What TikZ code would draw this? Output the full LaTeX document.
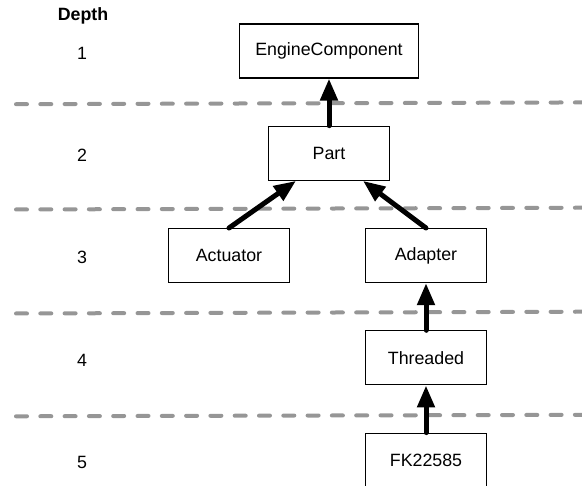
\documentclass[tikz,border=0pt]{standalone}
\usepackage{fontspec}
\setmainfont{Liberation Sans}
\usetikzlibrary{positioning, arrows.meta}
\definecolor{sepgray}{RGB}{150,150,150}

\begin{document}
\begin{tikzpicture}[x=1pt, y=1pt, node distance=102.3pt, font=\fontsize{17.8}{21}\selectfont]
% Define styles
\tikzstyle{cls} = [rectangle, minimum width=121pt, minimum height=54pt, text centered, draw=black, line width=1.2pt, fill=white]
\tikzstyle{arrow} = [line width=5pt, line cap=round, -{Triangle[length=22pt, width=17pt]}]
\tikzstyle{sep} = [sepgray, line width=4pt, line cap=round, dash pattern=on 11pt off 13.3pt]

\useasboundingbox (0,0) rectangle (582,-486);

% Depth column
\node (depth) at (83,-16) {\textbf{Depth}};
\node (d1) at (82,-53) {1};
\node (d2) [below of=d1] {2};
\node (d3) [below of=d2] {3};
\node (d4) [below of=d3] {4};
\node (d5) [below of=d4] {5};

% Level separators
\draw [sep] (16,-104.2) -- (592,-102.4);
\draw [sep] (16,-209.5) -- (592,-207.7);
\draw [sep] (16,-313.5) -- (592,-311.7);
\draw [sep] (16,-416.3) -- (592,-414.8);

% Classes
\node (engine) [cls, minimum width=179pt] at (329,-51) {EngineComponent};
\node (part) [cls, below of=engine] {Part};
\node (actuator) [cls, below of=part, xshift=-100pt] {Actuator};
\node (adapter) [cls, below of=part, xshift=97pt] {Adapter};
\node (threaded) [cls, below of=adapter] {Threaded};
\node (fk) [cls, below of=threaded] {FK22585};

% Inheritance arrows
\draw [arrow] (part) -- (engine);
\draw [arrow] (actuator.north) -- ([xshift=-33pt]part.south);
\draw [arrow] (adapter.north) -- ([xshift=34pt]part.south);
\draw [arrow] (threaded) -- (adapter);
\draw [arrow] (fk) -- (threaded);

\end{tikzpicture}
\end{document}
